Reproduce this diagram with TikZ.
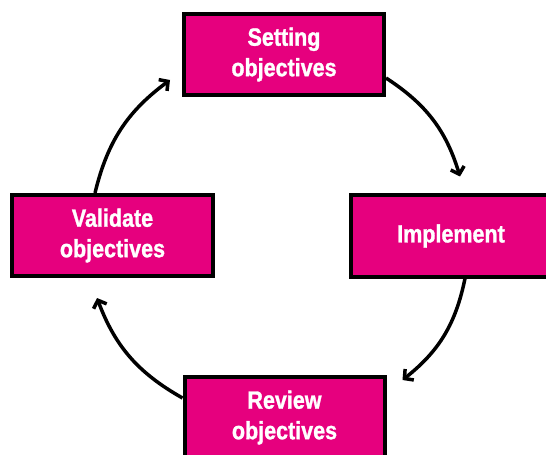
\documentclass[tikz,border=0pt]{standalone}
\usepackage{fontspec}
\setmainfont{Liberation Sans}[FakeStretch=0.86,BoldFeatures={FakeBold=1.2}]
\usetikzlibrary{arrows.meta}
\definecolor{boxpink}{RGB}{230,0,126}
\tikzset{
  stepbox/.style={draw=black, line width=4bp, fill=boxpink, minimum width=200bp, minimum height=81bp,
    inner sep=0pt, align=center, text=white, font=\fontsize{25bp}{30.5bp}\selectfont\bfseries},
  arr/.style={draw=black, line width=3.5bp, -{Straight Barb[length=6.5bp,width=14bp,line width=3.5bp]}}
}
\begin{document}
\begin{tikzpicture}[x=1bp,y=-1bp]
\clip (0,0) rectangle (546,455);
\node[stepbox] (top) at (284,54.5) {Setting\\objectives};
\node[stepbox] (right) at (451,236) {Implement};
\node[stepbox] (left) at (112.5,235.5) {Validate\\objectives};
\node[stepbox] (bottom) at (284.5,417.5) {Review\\objectives};
\draw[arr] ([yshift=-23.5bp]top.east) to[bend left=20] ([xshift=9bp,yshift=17bp]right.north);
\draw[arr] ([xshift=14bp]right.south) to[bend left=20] ([xshift=16bp,yshift=-5bp]bottom.north east);
\draw[arr] ([yshift=19.5bp]bottom.west) to[bend left=20] ([xshift=-15.5bp,yshift=-20bp]left.south);
\draw[arr] ([xshift=-17.5bp]left.north) to[bend left=20] ([xshift=-12bp,yshift=-25.5bp]top.west);
\end{tikzpicture}
\end{document}
